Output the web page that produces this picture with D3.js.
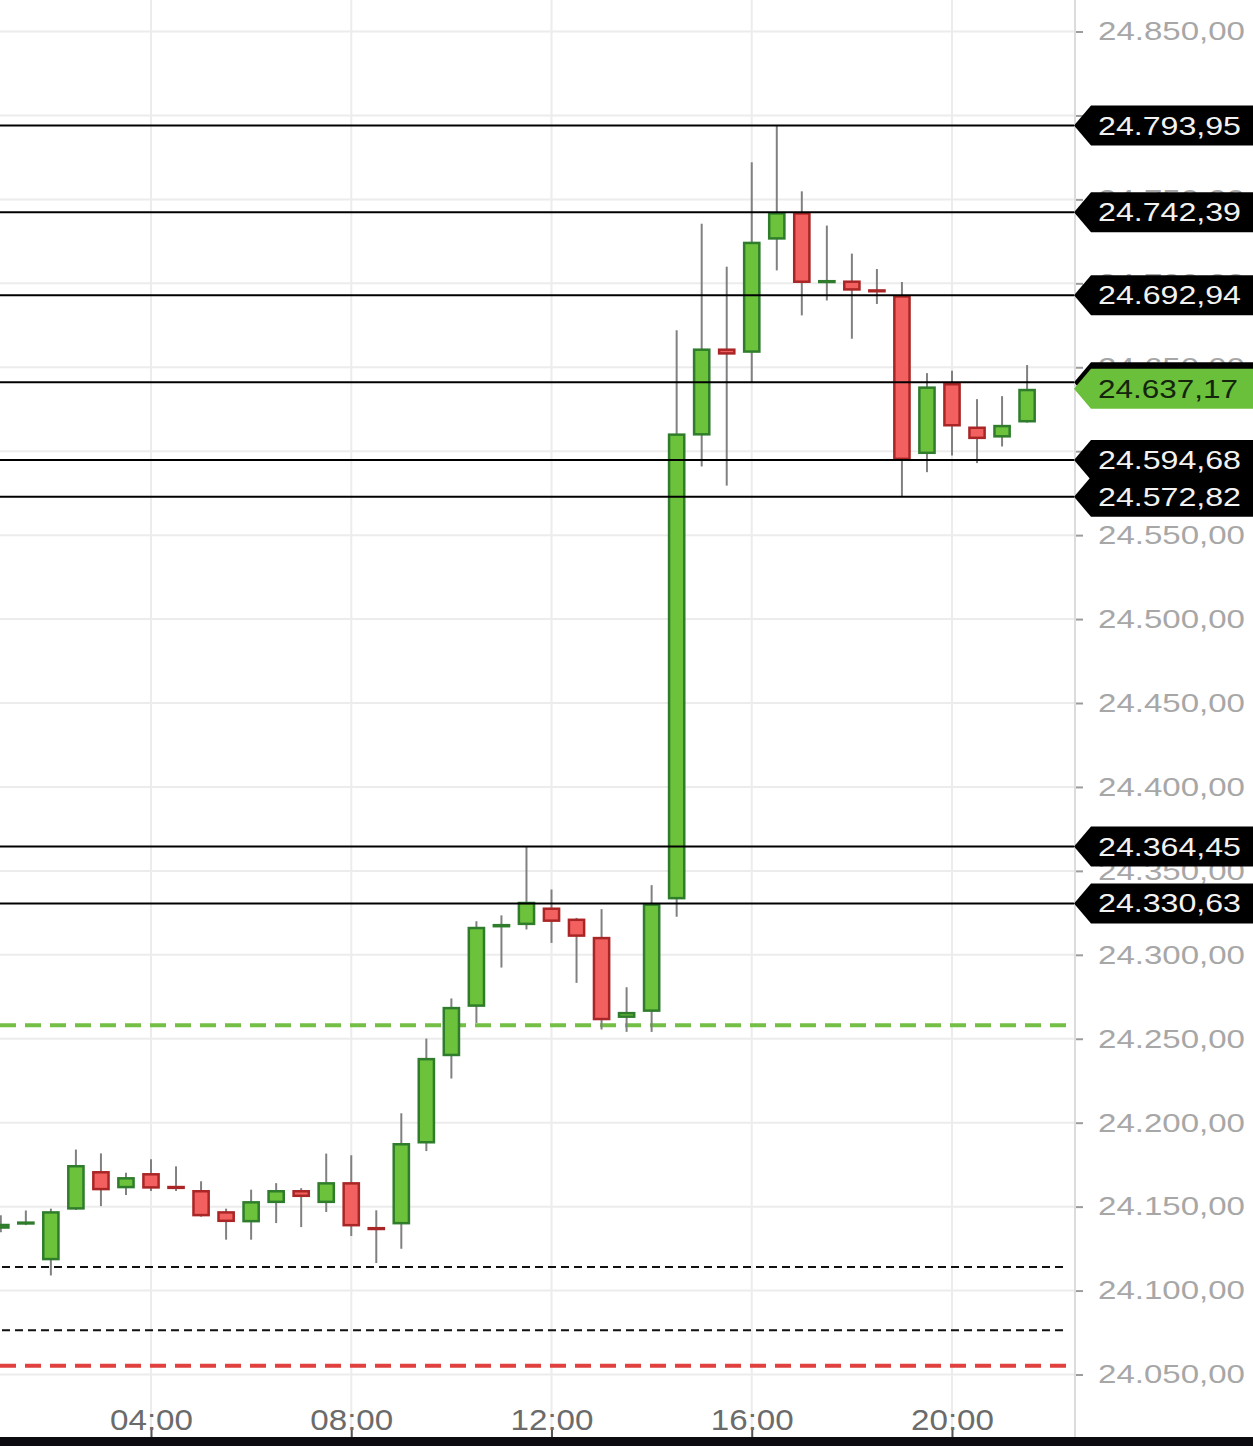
<!DOCTYPE html>
<html>
<head>
<meta charset="utf-8">
<script src="https://cdn.jsdelivr.net/npm/d3@7"></script>
<style>
  html, body { margin: 0; padding: 0; background: #fff; overflow: hidden; }
  svg { display: block; }
</style>
</head>
<body>
<svg id="chart"></svg>
<script>
// 30 minute candles
const times  = ["01:00","01:30","02:00","02:30","03:00","03:30","04:00","04:30","05:00","05:30",
                "06:00","06:30","07:00","07:30","08:00","08:30","09:00","09:30","10:00","10:30",
                "11:00","11:30","12:00","12:30","13:00","13:30","14:00","14:30","15:00","15:30",
                "16:00","16:30","17:00","17:30","18:00","18:30","19:00","19:30","20:00","20:30",
                "21:00","21:30"];
const opens  = [24136.8,24139.4,24118.0,24148.2,24171.2,24160.9,24170.0,24162.4,24159.9,24147.3,
                24140.6,24152.1,24159.9,24152.1,24164.6,24137.9,24139.4,24187.6,24239.6,24269.0,
                24316.3,24317.7,24328.2,24321.6,24310.7,24262.4,24266.0,24333.0,24609.3,24661.2,
                24658.6,24726.0,24742.39,24700.2,24701.7,24696.5,24692.94,24598.3,24640.6,24614.7,
                24608.1,24617.1];
const highs  = [24144.8,24147.7,24148.8,24184.0,24181.7,24170.2,24178.2,24174.0,24165.1,24148.8,
                24160.1,24164.0,24161.0,24181.6,24180.6,24147.8,24205.6,24250.1,24274.0,24320.0,
                24323.5,24364.45,24338.9,24322.0,24327.2,24280.7,24341.5,24672.0,24735.5,24709.9,
                24772.1,24793.95,24754.8,24734.4,24717.7,24708.5,24700.8,24646.5,24647.9,24631.0,
                24632.8,24651.3];
const lows   = [24134.8,24139.0,24109.0,24148.0,24150.3,24156.9,24159.3,24159.3,24144.0,24130.3,
                24130.3,24140.2,24137.8,24146.8,24132.5,24116.4,24124.9,24183.1,24226.3,24259.4,
                24292.4,24315.1,24307.1,24283.3,24255.5,24254.1,24254.1,24322.6,24590.9,24579.5,
                24641.2,24707.7,24680.9,24689.8,24667.0,24687.7,24572.82,24587.5,24597.4,24592.9,
                24602.8,24617.0];
const closes = [24139.8,24141.2,24147.3,24174.8,24159.7,24167.6,24160.7,24161.1,24144.2,24140.8,
                24153.3,24159.9,24155.7,24164.6,24138.2,24136.7,24187.9,24238.6,24269.0,24316.7,
                24318.4,24331.6,24319.6,24310.7,24261.0,24266.0,24330.63,24610.6,24661.2,24657.5,
                24724.8,24742.39,24700.2,24702.0,24695.6,24695.0,24594.68,24638.6,24614.7,24607.2,
                24615.7,24637.17];

// black price levels with a tag on the axis
const levels = [24793.95, 24742.39, 24692.94, 24594.68, 24572.82, 24364.45, 24330.63];
// level whose tag sits under the last price tag
const hiddenLevel = 24641.00;
const lastPrice = 24637.17;

// dashed lines
const greenDashed = 24258.0;
const redDashed = 24055.2;
const blackDashed = [24114.0, 24076.4];

const yTicks = [24050, 24100, 24150, 24200, 24250, 24300, 24350, 24400, 24450,
                24500, 24550, 24600, 24650, 24700, 24750, 24800, 24850];
// labels completely covered by the tags
const coveredTicks = [24600, 24800];
const xTicks = ["04:00", "08:00", "12:00", "16:00", "20:00"];

const width = 1253, height = 1446;
const axisX = 1075, bottomY = 1437;
const font = "'Liberation Sans', Arial, Helvetica, sans-serif";

const parseTime = d3.timeParse("%H:%M");
const de = d3.formatLocale({ decimal: ",", thousands: ".", grouping: [3], currency: ["", " €"] });
const priceFormat = de.format(",.2f");

function drawChart() {
  const svg = d3.select("#chart")
    .attr("width", width)
    .attr("height", height)
    .attr("viewBox", `0 0 ${width} ${height}`);

  svg.append("rect").attr("width", width).attr("height", height).attr("fill", "#fff");

  const x = d3.scaleTime()
    .domain([parseTime("04:00"), parseTime("20:00")])
    .range([151, 952]);

  const y = d3.scaleLinear()
    .domain([24050, 24850])
    .range([1374.5, 31.5]);

  const data = times.map((t, i) => ({
    time: parseTime(t), open: opens[i], high: highs[i], low: lows[i], close: closes[i]
  }));

  // grid
  svg.append("g").selectAll("line")
    .data(yTicks)
    .enter().append("line")
    .attr("x1", 0).attr("x2", axisX)
    .attr("y1", d => y(d)).attr("y2", d => y(d))
    .style("stroke", "#ececec").style("stroke-width", 2);

  svg.append("g").selectAll("line")
    .data(xTicks)
    .enter().append("line")
    .attr("x1", d => x(parseTime(d))).attr("x2", d => x(parseTime(d)))
    .attr("y1", 0).attr("y2", bottomY)
    .style("stroke", "#ececec").style("stroke-width", 2);

  // dashed lines
  const dash = svg.append("g");
  dash.append("line")
    .attr("x1", 0).attr("x2", 1073)
    .attr("y1", y(greenDashed)).attr("y2", y(greenDashed))
    .style("stroke", "#74bf45").style("stroke-width", 4).style("stroke-dasharray", "16 9");
  dash.append("line")
    .attr("x1", 0).attr("x2", 1073)
    .attr("y1", y(redDashed)).attr("y2", y(redDashed))
    .style("stroke", "#e0413f").style("stroke-width", 4).style("stroke-dasharray", "16 9");
  dash.selectAll(".blackdash")
    .data(blackDashed)
    .enter().append("line")
    .attr("class", "blackdash")
    .attr("x1", 2).attr("x2", 1066)
    .attr("y1", d => y(d)).attr("y2", d => y(d))
    .style("stroke", "#111").style("stroke-width", 2).style("stroke-dasharray", "8 5");

  // candles
  const candles = svg.append("g");
  candles.selectAll(".wick")
    .data(data)
    .enter().append("line")
    .attr("class", "wick")
    .attr("x1", d => x(d.time)).attr("x2", d => x(d.time))
    .attr("y1", d => y(d.high)).attr("y2", d => y(d.low))
    .style("stroke", "#808080").style("stroke-width", 2);

  const sw = 2.5;
  candles.selectAll(".body")
    .data(data)
    .enter().append("rect")
    .attr("class", "body")
    .attr("x", d => x(d.time) - 7.6)
    .attr("width", 15.2)
    .attr("y", d => Math.min(y(d.open), y(d.close)) + sw / 2)
    .attr("height", d => Math.max(Math.abs(y(d.open) - y(d.close)) - sw, 0.8))
    .style("fill", d => d.close >= d.open ? "#6cc23a" : "#f26060")
    .style("stroke", d => d.close >= d.open ? "#2f7d2c" : "#aa2626")
    .style("stroke-width", sw);

  // black level lines
  svg.append("g").selectAll("line")
    .data(levels.concat([hiddenLevel]))
    .enter().append("line")
    .attr("x1", 0).attr("x2", axisX)
    .attr("y1", d => y(d)).attr("y2", d => y(d))
    .style("stroke", "#000").style("stroke-width", 2);

  // axis line
  svg.append("line")
    .attr("x1", axisX).attr("x2", axisX)
    .attr("y1", 0).attr("y2", bottomY)
    .style("stroke", "#dcdcdc").style("stroke-width", 2);

  // y axis
  const yAxis = svg.append("g")
    .attr("transform", `translate(${axisX + 1},0)`)
    .call(d3.axisRight(y)
      .tickValues(yTicks)
      .tickFormat(d => coveredTicks.includes(d) ? "" : priceFormat(d))
      .tickSize(7)
      .tickSizeOuter(0)
      .tickPadding(15));

  yAxis.select(".domain").remove();
  yAxis.selectAll("line")
    .style("stroke", "#9c9c9c")
    .style("stroke-width", 2);
  yAxis.selectAll("text")
    .filter(d => coveredTicks.includes(d)).remove();
  yAxis.selectAll("text")
    .attr("textLength", 147)
    .attr("lengthAdjust", "spacingAndGlyphs")
    .style("font-size", "26px")
    .style("font-family", font)
    .style("fill", "#a7a7a7");

  // price tags
  const tagPath = yc => `M1074,${yc} L1091,${yc - 20} L${width},${yc - 20} L${width},${yc + 20} L1091,${yc + 20} Z`;
  const tags = svg.append("g");

  tags.append("path")
    .attr("d", tagPath(y(hiddenLevel)))
    .style("fill", "#000");

  const tag = tags.selectAll(".tag")
    .data(levels)
    .enter().append("g")
    .attr("class", "tag");
  tag.append("path")
    .attr("d", d => tagPath(y(d)))
    .style("fill", "#000");
  tag.append("text")
    .attr("x", 1098)
    .attr("y", d => y(d))
    .attr("dy", "0.35em")
    .attr("textLength", 143)
    .attr("lengthAdjust", "spacingAndGlyphs")
    .text(d => priceFormat(d))
    .style("font-size", "26px")
    .style("font-family", font)
    .style("fill", "#f2f2f2");

  // last price
  tags.append("path")
    .attr("d", tagPath(y(lastPrice)))
    .style("fill", "#6abf3b");
  tags.append("text")
    .attr("x", 1098)
    .attr("y", y(lastPrice))
    .attr("dy", "0.35em")
    .attr("textLength", 140)
    .attr("lengthAdjust", "spacingAndGlyphs")
    .text(priceFormat(lastPrice))
    .style("font-size", "26px")
    .style("font-family", font)
    .style("fill", "#14250c");

  // x axis
  const xAxis = svg.append("g")
    .attr("transform", `translate(0,${bottomY})`)
    .call(d3.axisTop(x)
      .tickValues(xTicks.map(parseTime))
      .tickFormat(d3.timeFormat("%H:%M"))
      .tickSize(7)
      .tickSizeOuter(0)
      .tickPadding(0));

  xAxis.select(".domain").remove();
  xAxis.selectAll("line")
    .style("stroke", "#555")
    .style("stroke-width", 2);
  xAxis.selectAll("text")
    .attr("textLength", 83)
    .attr("lengthAdjust", "spacingAndGlyphs")
    .style("font-size", "30px")
    .style("font-family", font)
    .style("fill", "#6b6b6b");

  // bottom bar
  svg.append("rect")
    .attr("x", 0).attr("y", bottomY)
    .attr("width", width).attr("height", height - bottomY)
    .style("fill", "#0b0b10");
}

drawChart();
</script>
</body>
</html>
